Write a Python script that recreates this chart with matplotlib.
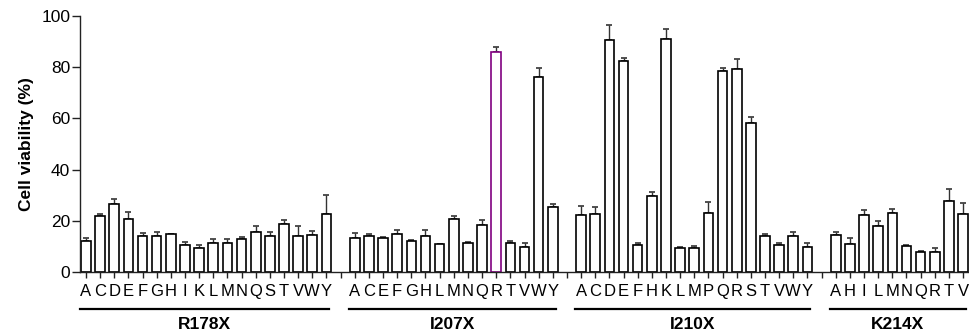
import matplotlib
matplotlib.use("Agg")
import matplotlib.pyplot as plt
import matplotlib.transforms as mtransforms
import numpy as np

plt.rcParams['font.family'] = ['Liberation Sans', 'DejaVu Sans']

# Mutation groups, substitution letters, mean viability and upper error (SD)
group_names = ["R178X", "I207X", "I210X", "K214X"]

r178_letters = ["A", "C", "D", "E", "F", "G", "H", "I", "K", "L", "M", "N", "Q", "S", "T", "V", "W", "Y"]
r178_means = [12.3, 22.0, 26.4, 20.7, 14.0, 14.2, 14.8, 10.4, 9.4, 11.2, 11.4, 12.7, 15.5, 14.2, 18.7, 14.0, 14.3, 22.6]
r178_errs = [1.0, 0.6, 2.3, 2.8, 1.2, 1.6, 0.2, 1.3, 1.0, 1.7, 1.5, 0.8, 2.4, 1.6, 1.8, 3.8, 1.7, 7.3]

i207_letters = ["A", "C", "E", "F", "G", "H", "L", "M", "N", "Q", "R", "T", "V", "W", "Y"]
i207_means = [13.3, 14.0, 13.1, 14.7, 12.2, 14.0, 10.9, 20.8, 11.2, 18.3, 85.8, 11.4, 9.8, 76.1, 25.4]
i207_errs = [1.9, 0.7, 0.7, 1.7, 0.4, 2.5, 0.2, 0.9, 0.7, 2.2, 2.1, 0.7, 1.6, 3.7, 1.0]

i210_letters = ["A", "C", "D", "E", "F", "H", "K", "L", "M", "P", "Q", "R", "S", "T", "V", "W", "Y"]
i210_means = [22.2, 22.6, 90.6, 82.6, 10.5, 29.8, 90.9, 9.5, 9.5, 23.0, 78.5, 79.3, 58.1, 14.0, 10.5, 14.0, 9.8]
i210_errs = [3.7, 2.6, 5.8, 0.9, 0.9, 1.5, 4.2, 0.1, 0.5, 4.3, 1.2, 4.0, 2.6, 0.7, 1.0, 1.6, 1.4]

k214_letters = ["A", "H", "I", "L", "M", "N", "Q", "R", "T", "V"]
k214_means = [14.3, 10.8, 22.1, 18.1, 22.9, 10.1, 7.8, 7.9, 27.8, 22.7]
k214_errs = [1.3, 2.3, 2.3, 1.8, 1.8, 0.6, 0.4, 1.3, 4.8, 4.1]

highlight = ("I207X", "R")

groups = [
    (r178_letters, r178_means, r178_errs),
    (i207_letters, i207_means, i207_errs),
    (i210_letters, i210_means, i210_errs),
    (k214_letters, k214_means, k214_errs),
]

fig = plt.figure(figsize=(9.69, 3.35), dpi=100)
ax = fig.add_axes([80 / 969, 1 - 272 / 335, 1 - 80 / 969, 256 / 335])

# Lay out the groups one after another, with one empty slot between them
tick_pos, tick_lab = [], []
spans = []
start = 0
for gi, (letters, means, errs) in enumerate(groups):
    x = np.arange(start, start + len(letters))
    edges = ["black"] * len(letters)
    for i, l in enumerate(letters):
        if (group_names[gi], l) == highlight:
            edges[i] = "#800080"
    ax.bar(x, means, width=0.68, color="white", edgecolor=edges, linewidth=1.2, zorder=2)
    ax.errorbar(x, means, yerr=[np.zeros(len(errs)), errs], fmt="none", ecolor="#333333",
                elinewidth=1.0, capsize=2.2, capthick=1.2, zorder=1)
    tick_pos += list(x)
    tick_lab += letters
    spans.append((x[0], x[-1]))
    if gi < len(groups) - 1:
        tick_pos.append(x[-1] + 1)
        tick_lab.append("")
    start = x[-1] + 2

ax.set_xlim(-0.42, tick_pos[-1] + 0.42)
ax.set_ylim(0, 100)
ax.set_yticks(np.arange(0, 101, 20))
ax.set_xticks(tick_pos)
ax.set_xticklabels(tick_lab)

ax.tick_params(axis="x", length=4.5, width=1.0, pad=4, labelsize=12, color="#222222")
ax.tick_params(axis="y", length=5.5, width=1.0, pad=1.5, labelsize=12.5, color="#222222")
for side in ("top", "right"):
    ax.spines[side].set_visible(False)
for side in ("left", "bottom"):
    ax.spines[side].set_linewidth(1.0)
    ax.spines[side].set_color("#222222")

ax.set_ylabel("Cell viability (%)", fontsize=12.5, fontweight="bold", labelpad=5)

# Group underlines and names below the letters
trans = mtransforms.blended_transform_factory(ax.transData, ax.transAxes)
for name, (x0, x1) in zip(group_names, spans):
    ax.plot([x0 - 0.42, x1 + 0.2], [-0.145, -0.145], color="black", lw=1.6,
            transform=trans, clip_on=False)
    ax.text((x0 - 0.42 + x1 + 0.2) / 2, -0.205, name, transform=trans, ha="center",
            va="center", fontsize=12.5, fontweight="bold")

fig.savefig("out.png", dpi=100)
